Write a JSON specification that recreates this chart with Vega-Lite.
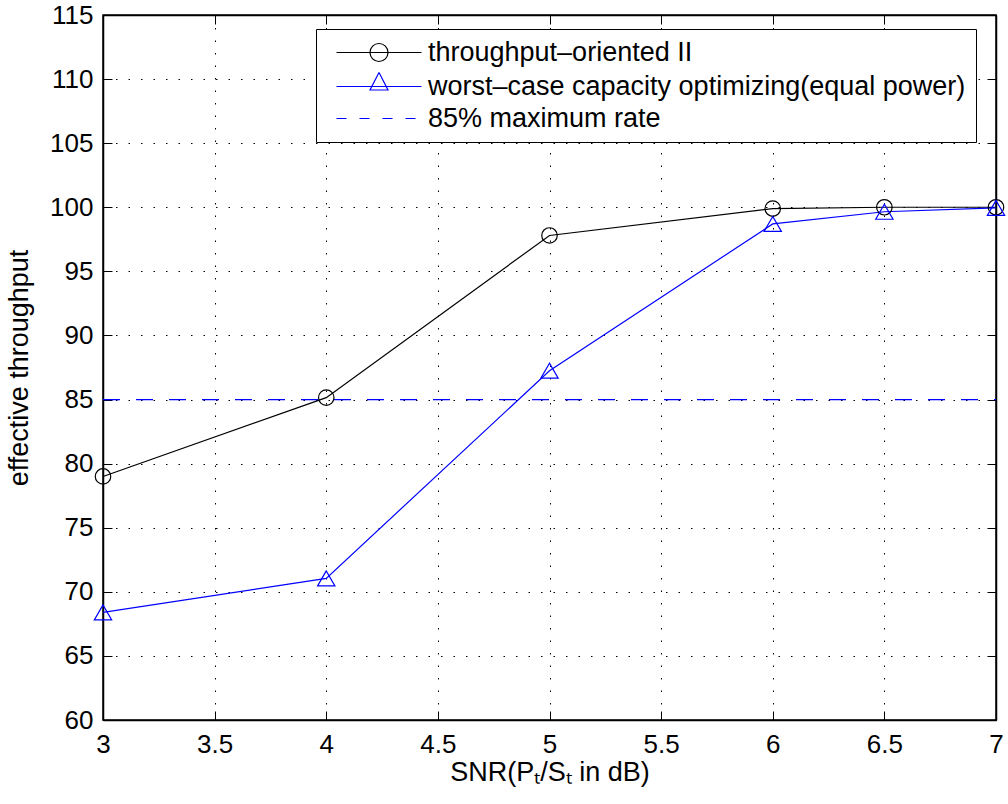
{
  "$schema": "https://vega.github.io/schema/vega-lite/v6.json",
  "width": 893,
  "height": 705,
  "autosize": {"type": "none"},
  "padding": {"left": 103, "top": 15, "right": 12, "bottom": 84},
  "background": "white",
  "config": {
    "font": "Liberation Sans",
    "view": {"stroke": "black", "strokeWidth": 1.5},
    "axis": {
      "labelFont": "Liberation Sans",
      "titleFont": "Liberation Sans",
      "labelColor": "black",
      "titleColor": "black",
      "tickColor": "black",
      "domainColor": "black",
      "domainWidth": 1.5,
      "tickWidth": 1,
      "labelFontSize": 26,
      "titleFontSize": 27,
      "titleFontWeight": "normal",
      "labelFlush": false,
      "labelOverlap": false,
      "gridColor": "black",
      "gridOpacity": 1,
      "gridWidth": 1,
      "gridDash": [1.5, 11]
    }
  },
  "data": {
    "values": [
      {"snr": 3, "thr": 79.0, "series": "throughput–oriented II"},
      {"snr": 4, "thr": 85.15, "series": "throughput–oriented II"},
      {"snr": 5, "thr": 97.8, "series": "throughput–oriented II"},
      {"snr": 6, "thr": 99.9, "series": "throughput–oriented II"},
      {"snr": 6.5, "thr": 100.0, "series": "throughput–oriented II"},
      {"snr": 7, "thr": 100.0, "series": "throughput–oriented II"},
      {"snr": 3, "thr": 68.4, "series": "worst–case capacity optimizing(equal power)"},
      {"snr": 4, "thr": 71.05, "series": "worst–case capacity optimizing(equal power)"},
      {"snr": 5, "thr": 87.25, "series": "worst–case capacity optimizing(equal power)"},
      {"snr": 6, "thr": 98.7, "series": "worst–case capacity optimizing(equal power)"},
      {"snr": 6.5, "thr": 99.65, "series": "worst–case capacity optimizing(equal power)"},
      {"snr": 7, "thr": 99.95, "series": "worst–case capacity optimizing(equal power)"},
      {"snr": 3, "thr": 85, "series": "85% maximum rate"},
      {"snr": 7, "thr": 85, "series": "85% maximum rate"}
    ]
  },
  "layer": [
    {
      "transform": [{"filter": "datum.series !== '85% maximum rate'"}],
      "mark": {"type": "line", "strokeWidth": 1.2},
      "encoding": {
        "x": {
          "field": "snr", "type": "quantitative",
          "scale": {"domain": [3, 7], "nice": false, "zero": false},
          "axis": {
            "orient": "bottom",
            "values": [3, 3.5, 4, 4.5, 5, 5.5, 6, 6.5, 7],
            "format": "~g",
            "grid": true,
            "tickSize": -9,
            "labelPadding": 20,
            "title": "SNR(Pₜ/Sₜ in dB)",
            "titlePadding": 2
          }
        },
        "y": {
          "field": "thr", "type": "quantitative",
          "scale": {"domain": [60, 115], "nice": false, "zero": false},
          "axis": {
            "orient": "left",
            "values": [60, 65, 70, 75, 80, 85, 90, 95, 100, 105, 110, 115],
            "grid": true,
            "tickSize": -9,
            "labelPadding": 19,
            "title": "effective throughput",
            "titlePadding": 16
          }
        },
        "color": {
          "field": "series", "type": "nominal",
          "scale": {
            "domain": ["throughput–oriented II", "worst–case capacity optimizing(equal power)", "85% maximum rate"],
            "range": ["black", "#0000ff", "#0000ff"]
          },
          "legend": {
            "orient": "none",
            "legendX": 213,
            "legendY": 14,
            "title": null,
            "direction": "vertical",
            "labelFontSize": 27,
            "labelFont": "Liberation Sans",
            "labelColor": "black",
            "labelLimit": 0,
            "symbolSize": 400,
            "symbolStrokeWidth": 1.2,
            "labelOffset": 75,
            "padding": 10,
            "rowPadding": 4,
            "strokeColor": "black",
            "fillColor": "white",
            "encode": {
              "symbols": {
                "update": {
                  "shape": {"signal": "datum.value === 'throughput–oriented II' ? 'M-0.3,0H8.2M4.85,0A0.9,0.9,0,1,1,3.05,0A0.9,0.9,0,1,1,4.85,0' : (datum.value === '85% maximum rate' ? 'M-0.3,0H8.2' : 'M-0.3,0H8.2M3.95,-1.4L4.85,0.35L3.05,0.35Z')"},
                  "strokeDash": {"signal": "datum.value === '85% maximum rate' ? [10, 13] : [100, 0]"}
                }
              }
            }
          }
        }
      }
    },
    {
      "transform": [{"filter": "datum.series === '85% maximum rate'"}],
      "mark": {"type": "line", "strokeWidth": 1.2, "strokeDash": [17, 16]},
      "encoding": {
        "x": {"field": "snr", "type": "quantitative", "axis": null},
        "y": {"field": "thr", "type": "quantitative", "axis": null},
        "color": {"field": "series", "type": "nominal"}
      }
    },
    {
      "transform": [{"filter": "datum.series === 'throughput–oriented II'"}],
      "mark": {"type": "point", "shape": "circle", "filled": false, "stroke": "black", "strokeWidth": 1.2, "size": 240, "opacity": 1},
      "encoding": {
        "x": {"field": "snr", "type": "quantitative", "axis": null},
        "y": {"field": "thr", "type": "quantitative", "axis": null}
      }
    },
    {
      "transform": [{"filter": "datum.series === 'worst–case capacity optimizing(equal power)'"}],
      "mark": {"type": "point", "shape": "triangle-up", "filled": false, "stroke": "#0000ff", "strokeWidth": 1.2, "size": 300, "opacity": 1},
      "encoding": {
        "x": {"field": "snr", "type": "quantitative", "axis": null},
        "y": {"field": "thr", "type": "quantitative", "axis": null}
      }
    },
    {
      "mark": {"type": "point", "opacity": 0},
      "encoding": {
        "x": {
          "field": "snr", "type": "quantitative",
          "axis": {"orient": "top", "values": [3, 3.5, 4, 4.5, 5, 5.5, 6, 6.5, 7], "labels": false, "grid": false, "tickSize": -9, "title": null}
        },
        "y": {
          "field": "thr", "type": "quantitative",
          "axis": {"orient": "right", "values": [60, 65, 70, 75, 80, 85, 90, 95, 100, 105, 110, 115], "labels": false, "grid": false, "tickSize": -9, "title": null}
        }
      }
    }
  ],
  "resolve": {"axis": {"x": "independent", "y": "independent"}}
}
